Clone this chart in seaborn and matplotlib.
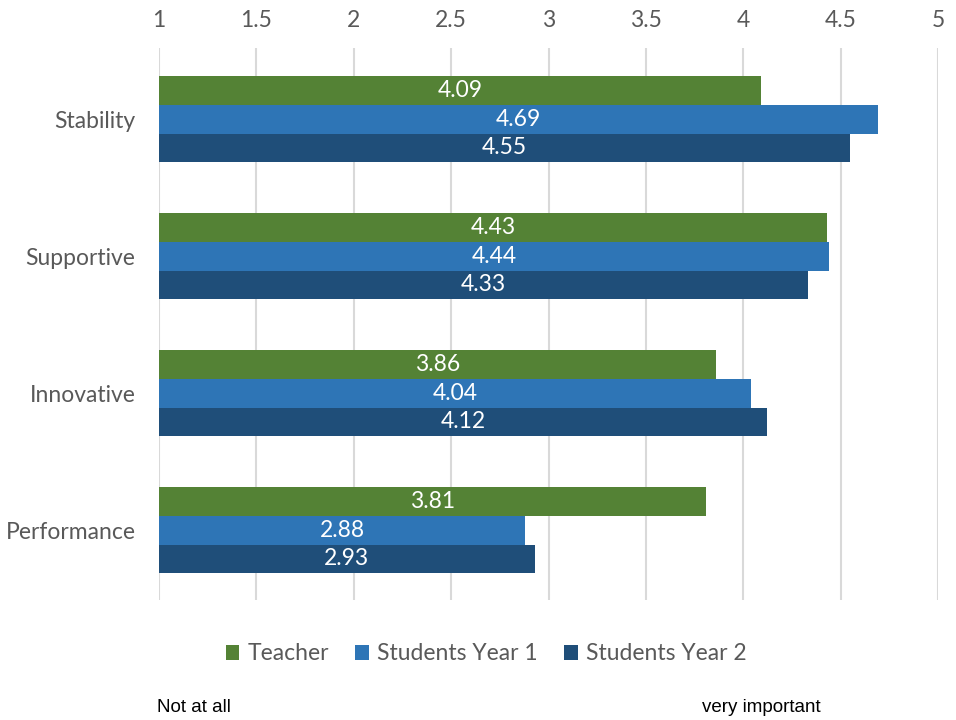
import matplotlib
matplotlib.use("Agg")
import matplotlib.pyplot as plt
import seaborn as sns
import pandas as pd

categories = ["Stability", "Supportive", "Innovative", "Performance"]
series = ["Teacher", "Students Year 1", "Students Year 2"]
teacher = [4.09, 4.43, 3.86, 3.81]
students_y1 = [4.69, 4.44, 4.04, 2.88]
students_y2 = [4.55, 4.33, 4.12, 2.93]
x_ticks = [1, 1.5, 2, 2.5, 3, 3.5, 4, 4.5, 5]
x_tick_labels = ["1", "1.5", "2", "2.5", "3", "3.5", "4", "4.5", "5"]
colors = ["#548235", "#2E75B6", "#1F4E79"]

rows = []
for s, vals in zip(series, [teacher, students_y1, students_y2]):
    for c, v in zip(categories, vals):
        rows.append({"Category": c, "Series": s, "Value": v})
df = pd.DataFrame(rows)

sns.set_theme(style="white")
plt.rcParams['font.family'] = ['Lato', 'DejaVu Sans']

FS = 16.5
fig = plt.figure(figsize=(9.56, 7.2), dpi=100)
ax = fig.add_axes([159/956, 1-600/720, (938-159)/956, (600-48)/720])

sns.barplot(data=df, y="Category", x="Value", hue="Series", order=categories,
            hue_order=series, palette=colors, orient="h", width=0.63,
            saturation=1, ax=ax, legend=True, edgecolor="none")

# bars start at the axis minimum (1)
for p in ax.patches:
    w = p.get_width()
    if w > 0:
        p.set_x(1)
        p.set_width(w - 1)

for cont in ax.containers:
    ax.bar_label(cont, labels=[f"{v:.2f}" for v in cont.datavalues],
                 label_type="center", color="white", fontsize=FS)

ax.set_xlim(1, 5)
ax.set_ylim(3.51, -0.52)
ax.set_xticks(x_ticks)
ax.set_xticklabels(x_tick_labels)
ax.xaxis.tick_top()
ax.tick_params(axis="x", length=0, pad=12, labelsize=FS, labelcolor="#595959")
ax.tick_params(axis="y", length=0, pad=17, labelsize=FS, labelcolor="#595959")
ax.grid(axis="x", color="#d9d9d9", linewidth=1.5)
ax.set_axisbelow(True)
for s in ax.spines.values():
    s.set_visible(False)
ax.set_xlabel("")
ax.set_ylabel("")

handles, labels = ax.get_legend_handles_labels()
ax.get_legend().remove()
fig.legend(handles, labels, loc="center", bbox_to_anchor=(486/956, 1-654/720),
           ncol=3, frameon=False, fontsize=FS, labelcolor="#595959",
           handlelength=0.6, handleheight=0.6, handletextpad=0.35, columnspacing=1.15)

fig.text(157/956, 1-708/720, "Not at all", fontsize=13.5, color="black",
         family="Liberation Sans", va="center", ha="left")
fig.text(702/956, 1-708/720, "very important", fontsize=13.5, color="black",
         family="Liberation Sans", va="center", ha="left")

fig.savefig("out.png", dpi=100)
